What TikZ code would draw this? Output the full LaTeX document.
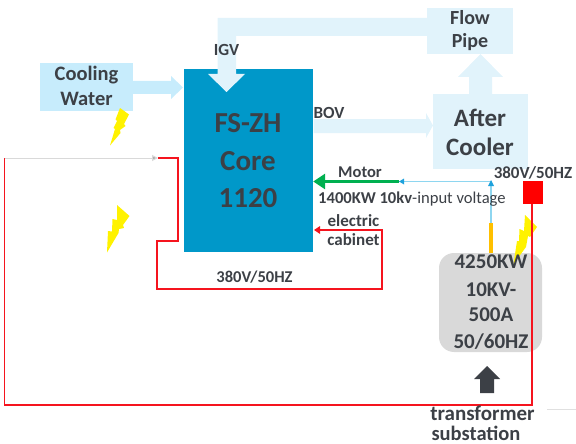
\documentclass[tikz,border=0pt]{standalone}
\usepackage{fontspec}
\setmainfont{Carlito}
\usetikzlibrary{arrows.meta}
\definecolor{ink}{HTML}{3C4046}
\definecolor{pale}{HTML}{E1F3FB}
\definecolor{coolc}{HTML}{C7ECFC}
\definecolor{corec}{HTML}{0098C9}
\definecolor{rline}{HTML}{F5141E}
\definecolor{gline}{HTML}{00B050}
\definecolor{bline}{HTML}{8ED6F0}
\definecolor{bhead}{HTML}{1EA1DC}
\definecolor{oline}{HTML}{FFC000}
\tikzset{
  x=1pt,y=-1pt,
  lbl/.style={text=ink,font=\bfseries\fontsize{#1}{#1}\selectfont,inner sep=0pt},
  lbl/.default=15,
  redline/.style={draw=rline,line width=1.9pt,line join=miter},
}
\begin{document}
\begin{tikzpicture}
\useasboundingbox (0,0) rectangle (576,444);
% blocks
\node[fill=corec,inner sep=0pt,minimum width=129pt,minimum height=183pt] (core) at (248.5,160.5) {};
\node[fill=coolc,inner sep=0pt,minimum width=93pt,minimum height=48pt] (water) at (86.5,87) {};
\node[fill=pale,inner sep=0pt,minimum width=86pt,minimum height=46pt] (flow) at (470,31) {};
\node[fill=pale,inner sep=0pt,minimum width=95pt,minimum height=75pt] (cooler) at (480.5,131.5) {};
\node[fill=black!15,rounded corners=15pt,inner sep=0pt,minimum width=103pt,minimum height=99pt] (sub) at (490.5,302.5) {};
\node[fill=red,inner sep=0pt,minimum width=20pt,minimum height=23pt] (sq) at (533,192.5) {};
% block arrows
\fill[coolc] (water.east |- 0,81) -- (171,81) -- (171,76) -- (183,87.5) -- (171,99) -- (171,94) -- (water.east |- 0,94) -- cycle;
\fill[pale] (flow.west |- 0,18) -- (217.5,18) -- (217.5,74) -- (208,74) -- (226.5,92) -- (245,74) -- (236,74) -- (236,36) -- (flow.west |- 0,36) -- cycle;
\fill[pale] (469,94) -- (469,77) -- (458,77) -- (480.5,54) -- (503,77) -- (492,77) -- (492,94) -- cycle;
\fill[pale] (313.5,119) -- (426,119) -- (426,113) -- (433,125.5) -- (426,138) -- (426,133) -- (313.5,133) -- cycle;
\fill[ink] (474,379) -- (487,366) -- (500,379) -- (494,379) -- (494,393) -- (480,393) -- (480,379) -- cycle;
% bolts
\fill[yellow] (120,108) -- (129,114.5) -- (124,124) -- (125.5,126) -- (120,130) -- (120.5,133) -- (110,145.5) -- (115,129) -- (113.5,128) -- (117,121) -- (115.5,119.5) -- cycle;
\fill[yellow] (117,205) -- (129.5,216) -- (123,225) -- (124,228) -- (119,229) -- (118.5,233) -- (107,252.5) -- (108,231) -- (112,231.5) -- (112.5,219) -- (117,220) -- cycle;
\fill[yellow] (525,215) -- (537,227) -- (530,237) -- (528,236) -- (526,247) -- (513.5,264) -- (517,241) -- (519,241) -- (519.5,229) -- (524,231) -- cycle;
% connectors
\coordinate (mid) at (399,181.5);
\coordinate (up) at (491,181.5);
\coordinate (ofoot) at (491,223);
\coordinate (rA) at (532,405);
\coordinate (rB) at (4.5,405);
\coordinate (rC) at (4.5,158);
\coordinate (rD) at (158,158);
\coordinate (rE) at (178,158);
\coordinate (rF) at (178,241);
\coordinate (rG) at (157,241);
\coordinate (rH) at (157,289);
\coordinate (rI) at (382,289);
\coordinate (rJ) at (382,230);
\coordinate (gEnd) at (576,409.5);
\coordinate (gStart) at (547,409.5);
\draw[gline,line width=2.8pt,-{Triangle[length=12pt,width=15pt]}] (mid) -- (core.east |- mid);
\draw[bline,line width=1.2pt] (ofoot) -- (up) -- (mid);
\fill[bhead] (494,186) -- (491,180) -- (488,186) -- cycle;
\fill[bhead] (404,178.5) -- (399,181.5) -- (404,184.5) -- cycle;
\draw[oline,line width=3.5pt] (sub.north -| ofoot) -- (ofoot);
\draw[redline] (sq.south -| rA) -- (rA) -- (rB) -- (rC);
\draw[black!15,line width=1pt,-{Triangle[length=6pt,width=6pt,fill=black!35]}] (rC) -- (rD);
\draw[redline] (rD) -- (rE) -- (rF) -- (rG) -- (rH) -- (rI) -- (rJ) -- (319,230);
\fill[rline] (320,226) -- (314,230) -- (320,234) -- cycle;
\draw[black!12,line width=1pt] (gStart) -- (gEnd);
% text
\node[lbl=20.5] at (86.5,75) {Cooling};
\node[lbl=20.5] at (86.5,99) {Water};
\node[lbl=17] at (226.5,50) {IGV};
\node[lbl=29] at (248,123) {FS-ZH};
\node[lbl=29] at (248,161) {Core};
\node[lbl=29] at (248,198) {1120};
\node[lbl=20] at (470,18) {Flow};
\node[lbl=20] at (470,42) {Pipe};
\node[lbl=25] at (480,118) {After};
\node[lbl=25] at (480,147) {Cooler};
\node[lbl=17] at (329,113) {BOV};
\node[lbl=16.5] at (360,172) {Motor};
\node[lbl=17] at (533,173) {380V/50HZ};
\node[text=ink,font=\fontsize{16.6}{16.6}\selectfont,inner sep=0pt,anchor=west] at (318,199) {\textbf{1400KW 10kv}-input voltage};
\node[lbl=17] at (353.5,221) {electric};
\node[lbl=17] at (353.5,240) {cabinet};
\node[lbl=16.5] at (254.5,277.5) {380V/50HZ};
\node[lbl=21] at (491,262) {4250KW};
\node[lbl=21] at (491,290) {10KV-};
\node[lbl=21] at (491,315) {500A};
\node[lbl=21] at (491,342) {50/60HZ};
\node[lbl=21] at (482.5,413) {transformer};
\node[lbl=20.5] at (476,433.5) {substation};
\end{tikzpicture}
\end{document}
